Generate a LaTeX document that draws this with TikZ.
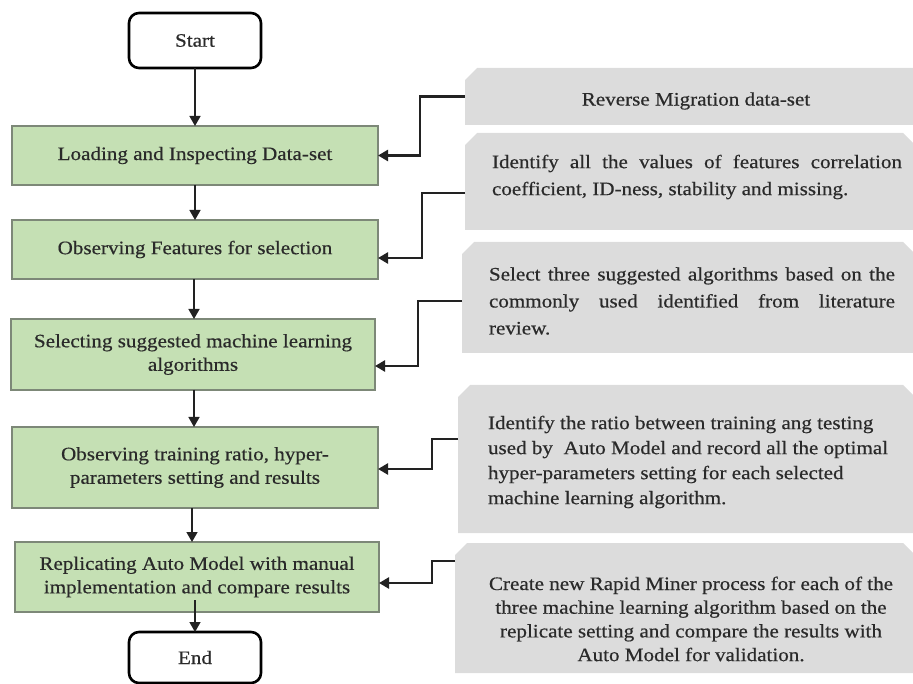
\documentclass[tikz,border=0pt]{standalone}
\usepackage{fontspec}
\setmainfont{Liberation Serif}[FakeStretch=1.11,FakeBold=0.5]
\usetikzlibrary{arrows.meta,calc}
\definecolor{gfill}{HTML}{C5E0B4}
\definecolor{gborder}{HTML}{7D8878}
\definecolor{greyfill}{HTML}{DCDCDC}
\definecolor{txt}{HTML}{2A2A2A}
\definecolor{linec}{HTML}{222222}
\begin{document}
\begin{tikzpicture}[x=1pt,y=-1pt,
  every node/.style={inner sep=0pt,outer sep=0pt,text=txt},
  greenbox/.style={draw=gborder,line width=1.3pt,fill=gfill,align=center,
    font=\fontsize{19}{23.5}\selectfont},
  term/.style={draw=black,line width=2.6pt,rounded corners=10pt,fill=white,
    minimum width=132,font=\fontsize{19}{23}\selectfont},
  greyshape/.style={draw=none},
  greytext/.style={font=\fontsize{19}{27}\selectfont},
  flow/.style={draw=linec,line width=1.5pt,-{Triangle[length=10pt,width=11pt]}},
  side/.style={draw=linec,line width=2.4pt,-{Triangle[length=10pt,width=11pt]}}]
\useasboundingbox (0,0) rectangle (913,684);

% flow boxes
\node[term,minimum height=55] (start) at (195,40.5) {Start};
\node[greenbox,minimum width=366,minimum height=59] (b1) at (195,155.5) {Loading and Inspecting Data-set};
\node[greenbox,minimum width=366,minimum height=59] (b2) at (195,249.5) {Observing Features for selection};
\node[greenbox,minimum width=364,minimum height=71] (b3) at (193,354.5) {Selecting suggested machine learning\\algorithms};
\node[greenbox,minimum width=366,minimum height=81] (b4) at (195,467.5) {Observing training ratio, hyper-\\parameters setting and results};
\node[greenbox,minimum width=364,minimum height=70] (b5) at (197,577) {Replicating Auto Model with manual\\implementation and compare results};
\node[term,minimum height=51] (end) at (195,657.5) {End};

% grey shapes
\node[greyshape,minimum width=465,minimum height=57] (g1) at (697.5,96.5) {};
\node[greyshape,minimum width=450,minimum height=97] (g2) at (690,181.5) {};
\node[greyshape,minimum width=453,minimum height=111] (g3) at (688.5,297.5) {};
\node[greyshape,minimum width=457,minimum height=148] (g4) at (686.5,459) {};
\node[greyshape,minimum width=460,minimum height=130] (g5) at (685,608) {};

\fill[greyfill] (g1.south west) -- ([yshift=-12pt]g1.north west) -- ([xshift=12pt]g1.north west)
  -- (g1.north east) -- (g1.south east) -- cycle;
\foreach \n in {g2,g3,g4,g5}
  \fill[greyfill] (\n.south west) -- ([yshift=-12pt]\n.north west) -- ([xshift=12pt]\n.north west)
    -- ([xshift=-12pt]\n.north east) -- ([yshift=-12pt]\n.north east) -- (\n.south east) -- cycle;

% grey texts
\node[greytext] (t1) at (696,101) {Reverse Migration data-set};
\node[greytext,text width=410,align=justify] (t2) at (697,177)
  {Identify all the values of features correlation\linebreak coefficient, ID-ness, stability and missing.};
\node[greytext,text width=406,align=justify] (t3) at (692,301)
  {Select three suggested algorithms based on the\linebreak commonly used identified from literature\linebreak review.};
\node[greytext,anchor=west,align=left,font=\fontsize{19}{25}\selectfont] (t4) at (488,462)
  {Identify the ratio between training ang testing\\used by \ Auto Model and record all the optimal\\hyper-parameters setting for each selected\\machine learning algorithm.};
\node[greytext,align=center,font=\fontsize{19}{23.7}\selectfont] (t5) at (691,619)
  {Create new Rapid Miner process for each of the\\three machine learning algorithm based on the\\replicate setting and compare the results with\\Auto Model for validation.};

% flow arrows
\draw[flow] (start.south) -- (start.south |- b1.north);
\draw[flow] (b1.south) -- (b1.south |- b2.north);
\draw[flow] ([xshift=-1pt]b2.south) -- ([xshift=-1pt]b2.south |- b3.north);
\draw[flow] ([xshift=1pt]b3.south) -- ([xshift=1pt]b3.south |- b4.north);
\draw[flow] ([xshift=-3pt]b4.south) -- ([xshift=-3pt]b4.south |- b5.north);
\draw[flow] ($(b5.south -| end.north)+(0,-12)$) -- (end.north);

% side connectors
\draw[side] (g1.west) -- ++(-45,0) |- (b1.east);
\draw[side] ([yshift=-11.5pt]g2.west) -- ++(-43,0) |- ([yshift=-8.5pt]b2.east);
\draw[side] ([yshift=-3.5pt]g3.west) -- ++(-44,0) |- ([yshift=-11.5pt]b3.east);
\draw[side] ([yshift=20pt]g4.west) -- ++(-26,0) |- ([yshift=-1.5pt]b4.east);
\draw[side] ([yshift=47pt]g5.west) -- ++(-23,0) |- ([yshift=-6pt]b5.east);
\end{tikzpicture}
\end{document}
